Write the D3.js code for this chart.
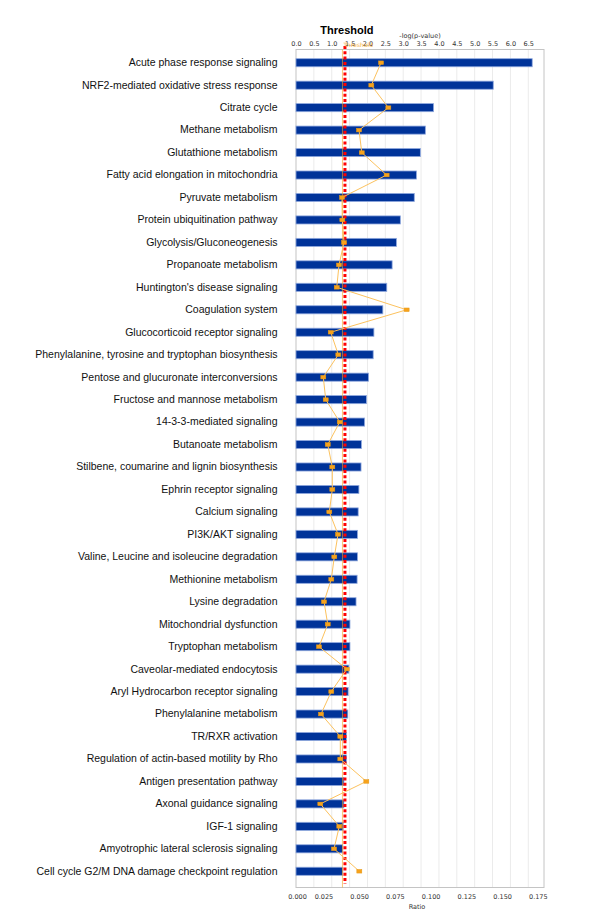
<!DOCTYPE html>
<html><head><meta charset="utf-8">
<script src="https://cdn.jsdelivr.net/npm/d3@7"></script>
<style>body{margin:0;background:#fff}svg{display:block}</style>
</head><body><svg id="c" width="600" height="916"></svg>
<script>
const categories = [
  "Acute phase response signaling",
  "NRF2-mediated oxidative stress response",
  "Citrate cycle",
  "Methane metabolism",
  "Glutathione metabolism",
  "Fatty acid elongation in mitochondria",
  "Pyruvate metabolism",
  "Protein ubiquitination pathway",
  "Glycolysis/Gluconeogenesis",
  "Propanoate metabolism",
  "Huntington's disease signaling",
  "Coagulation system",
  "Glucocorticoid receptor signaling",
  "Phenylalanine, tyrosine and tryptophan biosynthesis",
  "Pentose and glucuronate interconversions",
  "Fructose and mannose metabolism",
  "14-3-3-mediated signaling",
  "Butanoate metabolism",
  "Stilbene, coumarine and lignin biosynthesis",
  "Ephrin receptor signaling",
  "Calcium signaling",
  "PI3K/AKT signaling",
  "Valine, Leucine and isoleucine degradation",
  "Methionine metabolism",
  "Lysine degradation",
  "Mitochondrial dysfunction",
  "Tryptophan metabolism",
  "Caveolar-mediated endocytosis",
  "Aryl Hydrocarbon receptor signaling",
  "Phenylalanine metabolism",
  "TR/RXR activation",
  "Regulation of actin-based motility by Rho",
  "Antigen presentation pathway",
  "Axonal guidance signaling",
  "IGF-1 signaling",
  "Amyotrophic lateral sclerosis signaling",
  "Cell cycle G2/M DNA damage checkpoint regulation"
];
const logP = [6.61,5.52,3.85,3.62,3.48,3.37,3.31,2.92,2.81,2.69,2.54,2.43,2.18,2.16,2.03,1.97,1.92,1.83,1.82,1.76,1.74,1.72,1.72,1.71,1.68,1.51,1.51,1.48,1.46,1.45,1.41,1.41,1.34,1.34,1.32,1.31,1.31];
const ratio = [0.0595,0.0527,0.0646,0.0441,0.0460,0.0634,0.0322,0.0324,0.0336,0.0301,0.0285,0.0774,0.0243,0.0296,0.0191,0.0208,0.0306,0.0222,0.0254,0.0254,0.0233,0.0294,0.0268,0.0247,0.0196,0.0222,0.0161,0.0355,0.0247,0.0175,0.0310,0.0310,0.0492,0.0170,0.0303,0.0266,0.0443];
const logPTicks = [0,0.5,1,1.5,2,2.5,3,3.5,4,4.5,5,5.5,6,6.5];
const ratioTicks = [0,0.025,0.05,0.075,0.1,0.125,0.15,0.175];
const threshold = 1.3;
const markedThreshold = 1.37;

const svg = d3.select("#c");
const L = 296, R = 544, T = 49.5, B = 887.5;
const x = d3.scaleLinear().domain([0, 6.94]).range([L, R]);
const xr = d3.scaleLinear().domain([0, 0.1735]).range([L, R]);
const y = d3.scaleBand().domain(categories).range([51.5, 882.5]).paddingInner(0.64).paddingOuter(0.32);
const bw = y.bandwidth();
const data = categories.map((c, i) => ({c, v: logP[i], r: ratio[i]}));

// gridlines
svg.append("g").selectAll("line").data(logPTicks.slice(1)).join("line")
  .attr("x1", d => x(d)).attr("x2", d => x(d)).attr("y1", T).attr("y2", B)
  .attr("stroke", "#ebebeb").attr("stroke-width", 1);

// box
svg.append("rect").attr("x", L).attr("y", T).attr("width", R - L).attr("height", B - T)
  .attr("fill", "none").attr("stroke", "#c4c4c4").attr("stroke-width", 1);

// top axis
const topAx = svg.append("g").attr("transform", `translate(0,${T})`)
  .call(d3.axisTop(x).tickValues(logPTicks).tickSize(0).tickPadding(3.4).tickFormat(d3.format(".1f")));
topAx.select(".domain").remove();
topAx.selectAll("text").attr("font-family", "DejaVu Sans").attr("font-size", 6.5).attr("fill", "#333");

// bottom axis
const botAx = svg.append("g").attr("transform", `translate(0,${B})`)
  .call(d3.axisBottom(xr).tickValues(ratioTicks).tickSize(0).tickPadding(6.9).tickFormat(d3.format(".3f")));
botAx.select(".domain").remove();
botAx.selectAll("text").attr("font-family", "DejaVu Sans").attr("font-size", 6.5).attr("fill", "#333")
  .attr("text-anchor", (d, i) => i === 0 ? "middle" : "end")
  .attr("dx", 1);

// left labels
const labAx = svg.append("g").attr("transform", `translate(${L},0)`)
  .call(d3.axisLeft(y).tickSize(0).tickPadding(18.5));
labAx.select(".domain").remove();
labAx.selectAll("text").attr("font-family", "Liberation Sans, Arial, sans-serif").attr("font-size", 10.5).attr("fill", "#111");

// bars
svg.append("g").selectAll("rect").data(data).join("rect")
  .attr("x", L).attr("y", d => y(d.c)).attr("width", d => x(d.v) - L).attr("height", bw)
  .attr("fill", "#003399").attr("stroke", "#8fa8de").attr("stroke-width", 0.8);

// IPA threshold line
svg.append("line").attr("x1", x(threshold)).attr("x2", x(threshold)).attr("y1", T).attr("y2", B)
  .attr("stroke", "#f5a623").attr("stroke-width", 1).attr("opacity", 0.6);

// red dotted threshold
svg.append("line").attr("x1", x(markedThreshold)).attr("x2", x(markedThreshold)).attr("y1", T - 3.5).attr("y2", B - 3.5)
  .attr("stroke", "#ff0000").attr("stroke-width", 3).attr("stroke-dasharray", "3,2.3");

// ratio line
svg.append("path").datum(data)
  .attr("d", d3.line().x(d => xr(d.r)).y(d => y(d.c) + bw / 2))
  .attr("fill", "none").attr("stroke", "#fcc25e").attr("stroke-width", 1);
svg.append("g").selectAll("rect").data(data).join("rect")
  .attr("x", d => xr(d.r) - 2.5).attr("y", d => y(d.c) + bw / 2 - 1.8).attr("width", 5).attr("height", 3.6)
  .attr("fill", "#f7a21b").attr("stroke", "#e59a1a").attr("stroke-width", 0.5);

// texts
svg.append("text").attr("x", x(markedThreshold) + 2).attr("y", 34.3).attr("text-anchor", "middle")
  .attr("font-family", "Liberation Sans, Arial, sans-serif").attr("font-weight", "bold").attr("font-size", 11)
  .attr("fill", "#000").text("Threshold");
svg.append("text").attr("x", (L + R) / 2).attr("y", 38.3).attr("text-anchor", "middle")
  .attr("font-family", "DejaVu Sans").attr("font-size", 6.5).attr("fill", "#333").text("-log(p-value)");
svg.append("text").attr("x", x(threshold) + 1).attr("y", 46.8)
  .attr("font-family", "DejaVu Sans").attr("font-size", 6).attr("fill", "#f5a623").attr("opacity", 0.85).text("Threshold");
svg.append("text").attr("x", (L + R) / 2 - 3).attr("y", 908.5).attr("text-anchor", "middle")
  .attr("font-family", "DejaVu Sans").attr("font-size", 6.5).attr("fill", "#333").text("Ratio");
</script></body></html>
